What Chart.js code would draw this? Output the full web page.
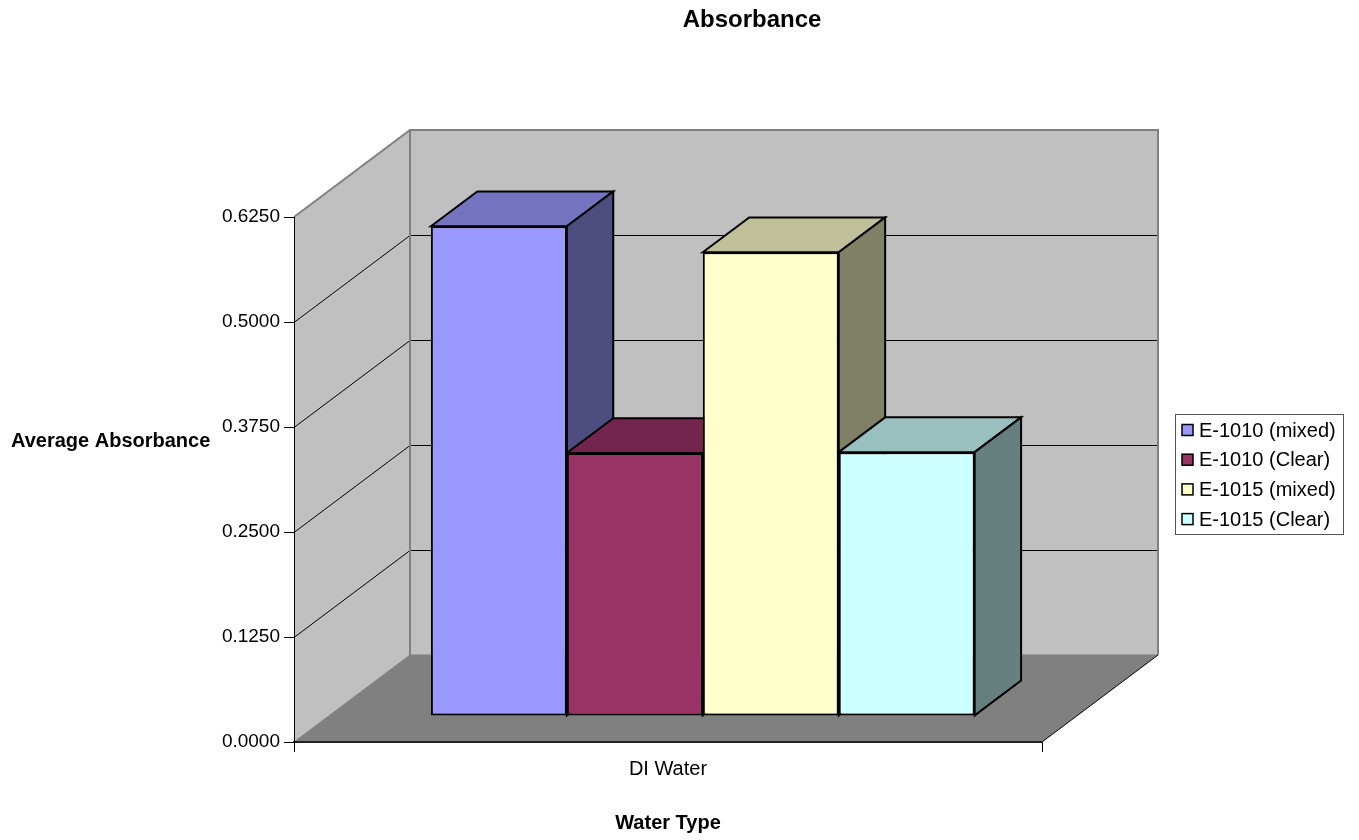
<!DOCTYPE html>
<html>
<head>
<meta charset="utf-8">
<title>Absorbance</title>
<script src="https://cdn.jsdelivr.net/npm/chart.js@4.4.1/dist/chart.umd.min.js"></script>
<style>
  html, body { margin: 0; padding: 0; background: #fff; }
  #wrap { width: 1359px; height: 840px; }
</style>
</head>
<body>
<div id="wrap"><canvas id="absChart" width="1359" height="840"></canvas></div>
<script>
const chartTitle = 'Absorbance';
const xTitle = 'Water Type';
const yTitle = 'Average Absorbance';
const categories = ['DI Water'];
const seriesNames = ['E-1010 (mixed)', 'E-1010 (Clear)', 'E-1015 (mixed)', 'E-1015 (Clear)'];
const e1010Mixed = [0.583];
const e1010Clear = [0.313];
const e1015Mixed = [0.552];
const e1015Clear = [0.314];
const yTicks = [0, 0.125, 0.25, 0.375, 0.5, 0.625];

// excel style shades: front, top, side
const frontColors = ['#9999FF', '#993366', '#FFFFCC', '#CCFFFF'];
const topColors = ['#7373BF', '#73264D', '#BFBF99', '#99BFBF'];
const sideColors = ['#4D4D80', '#4D1A33', '#808066', '#668080'];

// 3d depth of the plot box, bars sit between barNear and barFar
const depth = { x: 116, y: -87 };
const barNear = 0.3, barFar = 0.7;
const fontFamily = '"Liberation Sans", Arial, sans-serif';

Chart.defaults.font.family = fontFamily;
Chart.defaults.color = '#000';

function poly(ctx, pts, fill, stroke, lw) {
    ctx.beginPath();
    ctx.moveTo(pts[0][0], pts[0][1]);
    for (let i = 1; i < pts.length; i++) ctx.lineTo(pts[i][0], pts[i][1]);
    ctx.closePath();
    if (fill) { ctx.fillStyle = fill; ctx.fill(); }
    if (stroke) { ctx.strokeStyle = stroke; ctx.lineWidth = lw || 1; ctx.stroke(); }
}

const walls = {
    id: 'walls',
    beforeDraw(chart) {
        const ctx = chart.ctx;
        const a = chart.chartArea;
        const y = chart.scales.y;
        const top = y.getPixelForValue(yTicks[yTicks.length - 1]);
        const bot = y.getPixelForValue(0);
        const dx = depth.x, dy = depth.y;
        ctx.save();
        ctx.fillStyle = '#fff';
        ctx.fillRect(0, 0, chart.width, chart.height);
        poly(ctx, [[a.left + dx, top + dy], [a.right + dx, top + dy], [a.right + dx, bot + dy], [a.left + dx, bot + dy]], '#C0C0C0');
        poly(ctx, [[a.left, top], [a.left + dx, top + dy], [a.left + dx, bot + dy], [a.left, bot]], '#C0C0C0');
        poly(ctx, [[a.left, bot], [a.right, bot], [a.right + dx, bot + dy], [a.left + dx, bot + dy]], '#808080');

        // gridlines on side and back wall
        ctx.strokeStyle = '#000';
        ctx.lineWidth = 1;
        yTicks.slice(1, -1).forEach(v => {
            const py = Math.round(y.getPixelForValue(v)) + 0.5;
            ctx.beginPath();
            ctx.moveTo(a.left, py);
            ctx.lineTo(a.left + dx, py + dy);
            ctx.lineTo(a.right + dx, py + dy);
            ctx.stroke();
        });

        // wall edges
        ctx.strokeStyle = '#808080';
        ctx.lineWidth = 2;
        ctx.beginPath();
        ctx.moveTo(a.left, top);
        ctx.lineTo(a.left + dx, top + dy);
        ctx.lineTo(a.right + dx, top + dy);
        ctx.lineTo(a.right + dx, bot + dy);
        ctx.moveTo(a.left + dx, top + dy);
        ctx.lineTo(a.left + dx, bot + dy);
        ctx.stroke();
        ctx.lineWidth = 1;
        ctx.beginPath();
        ctx.moveTo(a.left + dx, bot + dy);
        ctx.lineTo(a.right + dx, bot + dy);
        ctx.moveTo(a.left, bot);
        ctx.lineTo(a.left + dx, bot + dy);
        ctx.stroke();
        ctx.strokeStyle = '#000';
        ctx.beginPath();
        ctx.moveTo(a.right, bot);
        ctx.lineTo(a.right + dx, bot + dy);
        ctx.stroke();
        ctx.restore();
    }
};

const bars3d = {
    id: 'bars3d',
    afterDatasetsUpdate(chart) {
        // push the bars back into the box
        chart.data.datasets.forEach((ds, i) => {
            chart.getDatasetMeta(i).data.forEach(el => {
                el.x += depth.x * barNear;
                el.y += depth.y * barNear;
                el.base += depth.y * barNear;
            });
        });
    },
    beforeDatasetsDraw(chart) {
        const ctx = chart.ctx;
        const dx = depth.x * (barFar - barNear), dy = depth.y * (barFar - barNear);
        ctx.save();
        ctx.lineJoin = 'miter';
        chart.data.datasets.forEach((ds, i) => {
            chart.getDatasetMeta(i).data.forEach(el => {
                const l = el.x - el.width / 2, r = el.x + el.width / 2, t = el.y, b = el.base;
                poly(ctx, [[l, t], [l + dx, t + dy], [r + dx, t + dy], [r, t]], topColors[i], '#000', 2);
                poly(ctx, [[r, t], [r + dx, t + dy], [r + dx, b + dy], [r, b]], sideColors[i], '#000', 2);
            });
        });
        ctx.restore();
    }
};

const texts = {
    id: 'texts',
    afterDraw(chart) {
        const ctx = chart.ctx;
        ctx.save();
        ctx.fillStyle = '#000';
        ctx.textBaseline = 'middle';
        ctx.textAlign = 'center';
        ctx.font = 'bold 24px ' + fontFamily;
        ctx.fillText(chartTitle, 752, 20);
        ctx.textAlign = 'left';
        ctx.font = 'bold 20px ' + fontFamily;
        ctx.fillText(yTitle, 11, 441);

        // legend
        ctx.strokeStyle = '#555';
        ctx.lineWidth = 1;
        ctx.strokeRect(1175.5, 414.5, 168, 120);
        ctx.font = '20px ' + fontFamily;
        chart.data.datasets.forEach((ds, i) => {
            const cy = 430 + i * 29.7;
            ctx.fillStyle = ds.backgroundColor;
            ctx.fillRect(1182, cy - 5.5, 11, 11);
            ctx.strokeStyle = '#000';
            ctx.lineWidth = 1.5;
            ctx.strokeRect(1182, cy - 5.5, 11, 11);
            ctx.fillStyle = '#000';
            ctx.fillText(ds.label, 1199, cy + 1);
        });
        ctx.restore();
    }
};

const allSeries = [e1010Mixed, e1010Clear, e1015Mixed, e1015Clear];

const ctx = document.getElementById('absChart').getContext('2d');
new Chart(ctx, {
    type: 'bar',
    data: {
        labels: categories,
        datasets: allSeries.map((vals, i) => ({
            label: seriesNames[i],
            data: vals,
            backgroundColor: frontColors[i],
            borderColor: '#000',
            borderWidth: 2,
            borderSkipped: false,
            barPercentage: 1,
            categoryPercentage: 0.727
        }))
    },
    options: {
        responsive: false,
        animation: false,
        events: [],
        layout: { padding: { top: 217, right: 317, left: 0, bottom: 0 } },
        plugins: {
            legend: { display: false },
            title: { display: false },
            tooltip: { enabled: false }
        },
        scales: {
            x: {
                offset: true,
                afterFit: s => { s.height = 98; },
                grid: { display: true, offset: true, drawOnChartArea: false, tickLength: 10, color: '#000' },
                border: { display: true, color: '#222', width: 2 },
                ticks: { padding: 5, font: { size: 20 } },
                title: { display: true, text: xTitle, font: { size: 20, weight: 'bold' }, padding: { top: 4, bottom: 5 } }
            },
            y: {
                min: 0,
                max: 0.625,
                afterFit: s => { s.width = 294; },
                afterBuildTicks: s => { s.ticks = yTicks.map(v => ({ value: v })); },
                grid: { drawOnChartArea: false, tickLength: 10, color: '#000' },
                border: { display: true, color: '#000', width: 1 },
                ticks: {
                    padding: 4,
                    font: { size: 19 },
                    callback: v => Number(v).toFixed(4)
                }
            }
        }
    },
    plugins: [walls, bars3d, texts]
});
</script>
</body>
</html>
